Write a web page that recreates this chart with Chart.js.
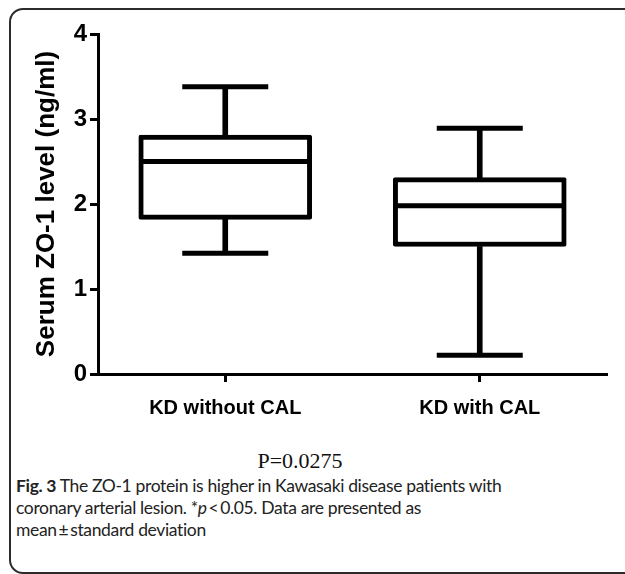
<!DOCTYPE html>
<html>
<head>
<meta charset="utf-8">
<script src="https://cdn.jsdelivr.net/npm/chart.js@4.4.1/dist/chart.umd.min.js"></script>
<style>
    html, body { margin: 0; padding: 0; background: #fff; }
    body { width: 625px; height: 574px; position: relative; overflow: hidden; }
    #frame {
        position: absolute; left: 9px; top: 8px; width: 640px; height: 566px;
        border: 2px solid #2b2b2b; border-radius: 14px; box-sizing: border-box;
    }
    #chartBox { position: absolute; left: 0; top: 0; width: 625px; height: 440px; }
    #pval {
        position: absolute; left: 0; width: 600px; top: 448px; text-align: center;
        font-family: "Liberation Serif", serif; font-size: 22px; color: #111;
    }
    #caption {
        position: absolute; left: 16px; top: 475px; width: 600px;
        font-family: Lato, sans-serif; font-size: 17.5px; letter-spacing: -0.35px;
        line-height: 22px; color: #222;
    }
</style>
</head>
<body>
<div id="frame"></div>
<div id="chartBox"><canvas id="boxChart" width="625" height="440"></canvas></div>
<div id="pval">P=0.0275</div>
<div id="caption"><b>Fig. 3</b> The ZO-1 protein is higher in Kawasaki disease patients with<br>coronary arterial lesion. *<i>p</i>&thinsp;&lt;&thinsp;0.05. Data are presented as<br>mean&thinsp;±&thinsp;standard deviation</div>
<script>
var GROUPS = ['KD without CAL', 'KD with CAL'];
var MINS = [1.42, 0.22];
var Q1S = [1.82, 1.50];
var MEDIANS = [2.50, 1.98];
var Q3S = [2.81, 2.31];
var MAXS = [3.38, 2.89];
var Y_TICKS = [0, 1, 2, 3, 4];

function pairs(a, b) {
    return GROUPS.map(function (g, i) { return [a[i], b[i]]; });
}

function points(lists) {
    var out = [];
    GROUPS.forEach(function (g, i) {
        lists.forEach(function (list) {
            out.push({x: g, y: list[i]});
        });
    });
    return out;
}

var boxChart = new Chart(document.getElementById('boxChart'), {
    type: 'bar',
    data: {
        labels: GROUPS,
        datasets: [
            {
                label: 'lower whisker',
                data: pairs(MINS, Q1S),
                backgroundColor: '#000',
                barThickness: 5,
                grouped: false,
                order: 3
            },
            {
                label: 'upper whisker',
                data: pairs(Q3S, MAXS),
                backgroundColor: '#000',
                barThickness: 5,
                grouped: false,
                order: 3
            },
            {
                label: 'box',
                data: pairs(Q1S, Q3S),
                backgroundColor: '#fff',
                borderColor: '#000',
                borderWidth: 5,
                borderSkipped: false,
                borderRadius: 2,
                barThickness: 173,
                grouped: false,
                order: 2
            },
            {
                type: 'line',
                label: 'median',
                data: points([MEDIANS]),
                showLine: false,
                pointStyle: 'line',
                pointRadius: 86,
                pointBorderWidth: 5,
                pointBorderColor: '#000',
                order: 1
            },
            {
                type: 'line',
                label: 'caps',
                data: points([MINS, MAXS]),
                showLine: false,
                pointStyle: 'line',
                pointRadius: 43,
                pointBorderWidth: 5,
                pointBorderColor: '#000',
                order: 1
            }
        ]
    },
    options: {
        responsive: false,
        animation: false,
        events: [],
        layout: { autoPadding: false, padding: { left: 0, top: 34, right: 18, bottom: 0 } },
        plugins: { legend: { display: false }, tooltip: { enabled: false } },
        scales: {
            x: {
                offset: true,
                border: { color: '#000', width: 3 },
                grid: {
                    offset: false,
                    drawOnChartArea: false,
                    tickLength: 8,
                    tickWidth: 3,
                    tickColor: '#000'
                },
                ticks: {
                    color: '#000',
                    padding: 14,
                    font: { family: 'Liberation Sans', size: 20, weight: 'bold' }
                },
                afterFit: function (scale) { scale.height = 66; }
            },
            y: {
                min: 0,
                max: 4,
                border: { color: '#000', width: 3 },
                grid: {
                    drawOnChartArea: false,
                    tickLength: 8,
                    tickWidth: 3,
                    tickColor: '#000'
                },
                afterBuildTicks: function (scale) {
                    scale.ticks = Y_TICKS.map(function (v) { return {value: v}; });
                },
                ticks: {
                    color: '#000',
                    padding: 3,
                    font: { family: 'Liberation Sans', size: 24, weight: 'bold' }
                },
                title: {
                    display: true,
                    text: 'Serum ZO-1 level (ng/ml)',
                    color: '#000',
                    padding: { top: 31, bottom: 0 },
                    font: { family: 'Liberation Sans', size: 26, weight: 'bold' }
                },
                afterFit: function (scale) { scale.width = 98; }
            }
        }
    }
});
</script>
</body>
</html>
